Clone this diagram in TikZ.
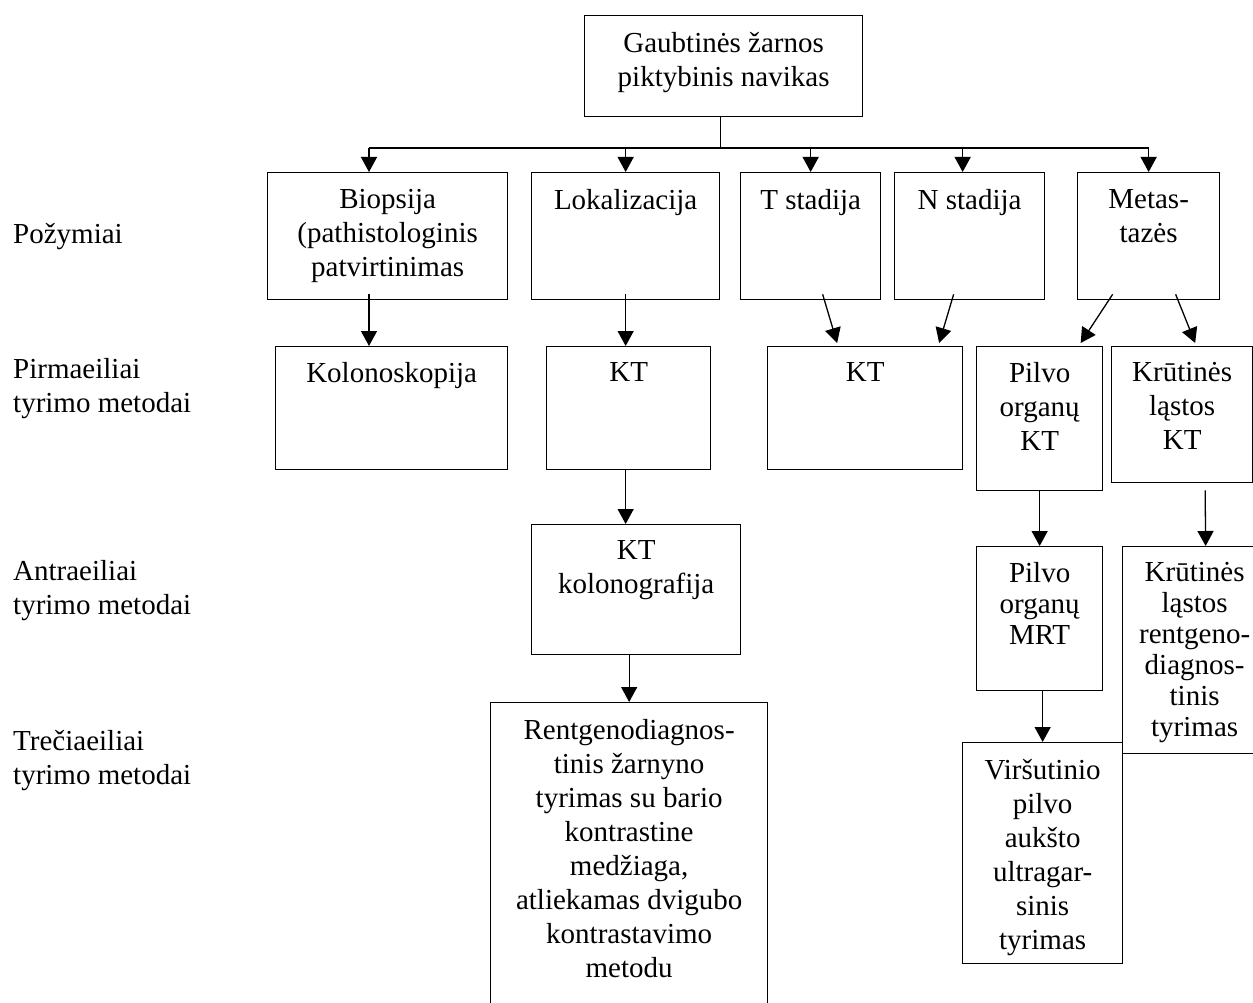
\documentclass[tikz,border=0pt]{standalone}
\usepackage{fontspec}
\setmainfont{Liberation Serif}
\usetikzlibrary{arrows.meta}
\usetikzlibrary{positioning}

\tikzset{
	box/.style={draw, line width=1.3pt, anchor=north west, inner sep=0pt},
	txt/.style={align=center, inner sep=0pt, font=\fontsize{29}{34}\selectfont},
	tight/.style={font=\fontsize{29}{31}\selectfont},
	lbl/.style={anchor=west, align=left, inner sep=0pt, font=\fontsize{29}{34}\selectfont},
	conn/.style={line width=1.3pt},
	arr/.style={line width=1.3pt, -{Triangle[width=16pt,length=15pt]}}
}

\begin{document}
\begin{tikzpicture}[x=1pt, y=-1pt]
	\useasboundingbox (0,0) rectangle (1253,1003);
	\clip (0,0) rectangle (1253,1003);

	% eilutes
	\node[lbl] (pozym) at (13,237) {Požymiai};
	\node[lbl] (pirm) at (13,389) {Pirmaeiliai\\tyrimo metodai};
	\node[lbl] (antr) at (13,591) {Antraeiliai\\tyrimo metodai};
	\node[lbl] (trec) at (13,761) {Trečiaeiliai\\tyrimo metodai};

	% dezes
	\node[box, minimum width=278pt, minimum height=101pt] (root) at (584,15) {};
	\node[box, minimum width=240pt, minimum height=127pt] (biop) at (267,172) {};
	\node[box, minimum width=188pt, minimum height=127pt] (lok) at (531,172) {};
	\node[box, minimum width=140pt, minimum height=127pt] (tst) at (740,172) {};
	\node[box, minimum width=150pt, minimum height=127pt] (nst) at (894,172) {};
	\node[box, minimum width=142pt, minimum height=127pt] (meta) at (1077,172) {};
	\node[box, minimum width=232pt, minimum height=123pt] (kolon) at (275,346) {};
	\node[box, minimum width=164pt, minimum height=123pt] (kta) at (546,346) {};
	\node[box, minimum width=195pt, minimum height=123pt] (ktb) at (767,346) {};
	\node[box, minimum width=126pt, minimum height=144pt] (pilkt) at (976,346) {};
	\node[box, minimum width=141pt, minimum height=136pt] (krkt) at (1111,346) {};
	\node[box, minimum width=209pt, minimum height=130pt] (kolg) at (531,524) {};
	\node[box, minimum width=126pt, minimum height=144pt] (pilmrt) at (976,546) {};
	\node[box, minimum width=144pt, minimum height=207pt] (krrtg) at (1122,546) {};
	\node[box, minimum width=277pt, minimum height=330pt] (rtg) at (490,702) {};
	\node[box, minimum width=160pt, minimum height=221pt] (virs) at (962,742) {};

	% tekstai
	\node[txt, below=17pt of root.north] (rootT) {Gaubtinės žarnos\\piktybinis navikas};
	\node[txt, below=17pt of biop.north] (biopT) {Biopsija\\(pathistologinis\\patvirtinimas};
	\node[txt, below=17pt of lok.north] (lokT) {Lokalizacija};
	\node[txt, below=17pt of tst.north] (tstT) {T stadija};
	\node[txt, below=17pt of nst.north] (nstT) {N stadija};
	\node[txt, below=17pt of meta.north] (metaT) {Metas-\\tazės};
	\node[txt, below=16pt of kolon.north] (kolonT) {Kolonoskopija};
	\node[txt, below=16pt of kta.north] (ktaT) {KT};
	\node[txt, below=16pt of ktb.north] (ktbT) {KT};
	\node[txt, below=16pt of pilkt.north] (pilktT) {Pilvo\\organų\\KT};
	\node[txt, below=16pt of krkt.north] (krktT) {Krūtinės\\ląstos\\KT};
	\node[txt, below=16pt of kolg.north] (kolgT) {KT\\kolonografija};
	\node[txt, tight, below=16pt of pilmrt.north] (pilmrtT) {Pilvo\\organų\\MRT};
	\node[txt, tight, below=16pt of krrtg.north] (krrtgT) {Krūtinės\\ląstos\\rentgeno-\\diagnos-\\tinis\\tyrimas};
	\node[txt, below=17pt of rtg.north] (rtgT) {Rentgenodiagnos-\\tinis žarnyno\\tyrimas su bario\\kontrastine\\medžiaga,\\atliekamas dvigubo\\kontrastavimo\\metodu};
	\node[txt, below=17pt of virs.north] (virsT) {Viršutinio\\pilvo\\aukšto\\ultragar-\\sinis\\tyrimas};

	% rodykles
	\coordinate (busL) at (369,148);
	\coordinate (busR) at (meta.north |- busL);
	\draw[conn] ([xshift=-3pt]root.south) -- ([xshift=-3pt]root.south |- busL);
	\draw[conn] (busL) -- (busR);
	\draw[arr] (busL) -- (busL |- biop.north);
	\draw[arr] (lok.north |- busL) -- (lok.north);
	\draw[arr] (tst.north |- busL) -- (tst.north);
	\draw[arr] ([xshift=-7pt,yshift=24pt]nst.north) -- ([xshift=-7pt]nst.north);
	\draw[arr] (busR) -- (meta.north);

	\draw[arr] ([yshift=6pt]busL |- biop.south) -- (busL |- kolon.north);
	\draw[arr] ([yshift=6pt]lok.south) -- (lok.south |- kta.north);
	\draw[arr] ([xshift=12pt,yshift=6pt]tst.south) -- ([xshift=-28pt,yshift=3pt]ktb.north);
	\draw[arr] ([xshift=-16pt,yshift=6pt]nst.south) -- ([xshift=74pt,yshift=3pt]ktb.north);
	\draw[arr] ([xshift=-36pt,yshift=6pt]meta.south) -- ([xshift=41pt,yshift=3pt]pilkt.north);
	\draw[arr] ([xshift=27pt,yshift=6pt]meta.south) -- ([xshift=13pt,yshift=3pt]krkt.north);

	\draw[arr] (lok.south |- kta.south) -- (lok.south |- kolg.north);
	\draw[arr] (pilkt.south) -- (pilmrt.north);
	\draw[arr] ([xshift=23pt,yshift=-7pt]krkt.south) -- ([xshift=11pt]krrtg.north);
	\draw[arr] (rtg.north |- kolg.south) -- (rtg.north);
	\draw[arr] (virs.north |- pilmrt.south) -- (virs.north);
\end{tikzpicture}
\end{document}
